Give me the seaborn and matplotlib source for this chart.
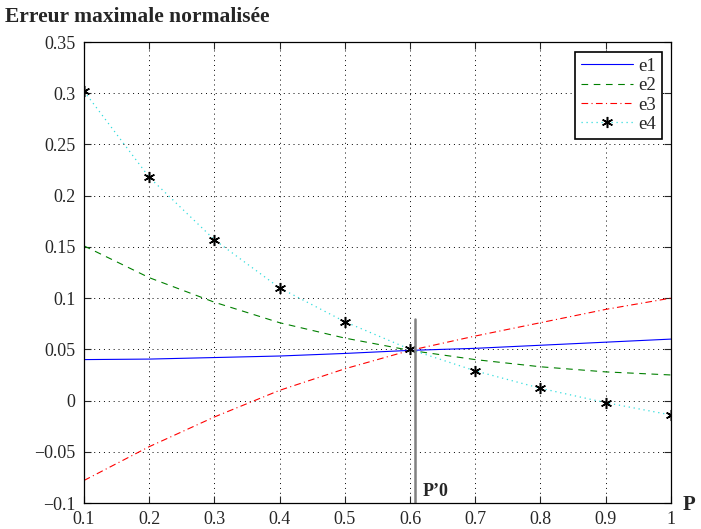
import numpy as np
import pandas as pd
import matplotlib
matplotlib.use("Agg")
import matplotlib.pyplot as plt
import seaborn as sns

# valeurs
p = [0.1, 0.2, 0.3, 0.4, 0.5, 0.6, 0.7, 0.8, 0.9, 1.0]
e1 = [0.040, 0.0405, 0.042, 0.0435, 0.046, 0.049, 0.051, 0.054, 0.057, 0.060]
e2 = [0.151, 0.120, 0.096, 0.076, 0.061, 0.049, 0.040, 0.033, 0.028, 0.025]
e3 = [-0.078, -0.045, -0.016, 0.010, 0.031, 0.049, 0.063, 0.076, 0.089, 0.100]
e4 = [0.302, 0.218, 0.157, 0.110, 0.077, 0.050, 0.029, 0.012, -0.002, -0.014]
p0 = 0.607
p0_top = 0.080

sns.set_style("ticks")
plt.rcParams['font.family'] = ['Liberation Serif', 'DejaVu Serif']
plt.rcParams['axes.unicode_minus'] = True

df = pd.DataFrame({"P": p, "e1": e1, "e2": e2, "e3": e3, "e4": e4})

fig = plt.figure(figsize=(7.01, 5.29), dpi=100)
ax = fig.add_axes([0.1198, 0.0491, 0.8372, 0.8715])

sns.lineplot(data=df, x="P", y="e1", ax=ax, color="blue", lw=0.8, label="e1")
sns.lineplot(data=df, x="P", y="e2", ax=ax, color="green", lw=0.8,
             label="e2", dashes=False)
ax.lines[-1].set_dashes((6, 5))
sns.lineplot(data=df, x="P", y="e3", ax=ax, color="red", lw=0.8, label="e3")
ax.lines[-1].set_dashes((6, 3, 1, 3))
sns.lineplot(data=df, x="P", y="e4", ax=ax, color="#33dddd", lw=0.9,
             label="e4", marker=(6, 2, 0), markersize=8,
             markeredgecolor="black", markerfacecolor="black", markeredgewidth=1.1)
ax.lines[-1].set_dashes((1, 3))

ax.plot([p0, p0], [-0.1, p0_top], color="gray", lw=1.8)
ax.text(p0 + 0.012, -0.089, "P\u20190", fontsize=13, fontweight="bold",
        va="center", ha="left")

ax.set_xlim(0.1, 1)
ax.set_ylim(-0.1, 0.35)
ax.set_xticks(p)
ax.set_xticklabels(["0.1", "0.2", "0.3", "0.4", "0.5", "0.6", "0.7", "0.8", "0.9", "1"])
ax.set_yticks(np.arange(-0.1, 0.351, 0.05))
ax.set_yticklabels(["\u22120.1", "\u22120.05", "0", "0.05", "0.1", "0.15",
                    "0.2", "0.25", "0.3", "0.35"])
ax.tick_params(direction="in", top=True, right=True, labelsize=13, length=5,
               width=0.8, pad=6)
ax.grid(True, linestyle=(0, (1, 4)), color="black", lw=0.7)
for s in ax.spines.values():
    s.set_visible(True)
    s.set_linewidth(0.9)
    s.set_color("black")
ax.set_xlabel("")
ax.set_ylabel("")

leg = ax.legend(loc="upper right", fontsize=13.5, frameon=True, fancybox=False,
                edgecolor="black", framealpha=1, handlelength=2.8,
                borderpad=0.3, labelspacing=0.12, handletextpad=0.3,
                borderaxespad=0, numpoints=1,
                bbox_to_anchor=(0.985, 0.978))
leg.get_frame().set_linewidth(1.2)

fig.text(0.992, 0.045, "P", fontsize=15, fontweight="bold", ha="right", va="center")
fig.text(0.007, 0.968, "Erreur maximale normalisée", fontsize=15.5,
         fontweight="bold", ha="left", va="center")

fig.savefig("out.png", dpi=100)
